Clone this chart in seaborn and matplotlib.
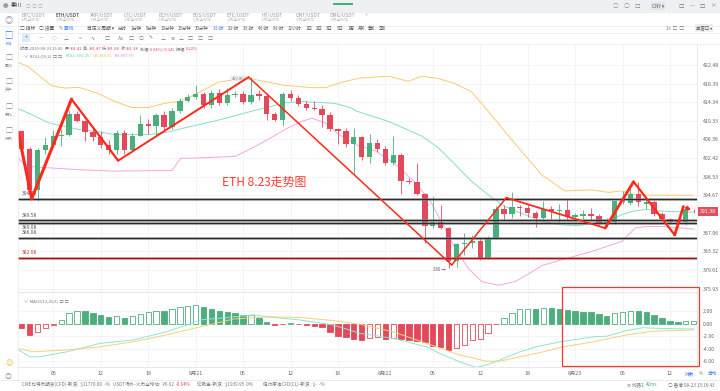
import numpy as np
import pandas as pd
import matplotlib
matplotlib.use('Agg')
import matplotlib.pyplot as plt
from matplotlib.patches import Rectangle
from matplotlib.lines import Line2D
from matplotlib.ticker import FixedLocator, NullLocator, FixedFormatter
import seaborn as sns

sns.set_theme(style='white')
plt.rcParams['font.family'] = ['Noto Sans CJK SC', 'DejaVu Sans']

# ETH/USDT hourly candles, 2020-08-20 02:00 -> 2020-08-23 15:00
opens = [408.1, 404.4, 395.7, 404.2, 405.2, 407.0, 407.3, 411.9, 410.3, 408.0,
         406.9, 405.2, 404.2, 407.7, 404.2, 407.2, 409.7, 409.3, 411.5, 409.1,
         412.5, 414.7, 415.5, 416.1, 413.8, 416.4, 414.2, 415.8, 416.2, 414.4,
         416.2, 415.6, 411.9, 410.6, 416.2, 415.2, 414.0, 413.1, 412.8, 411.6,
         408.5, 408.2, 405.5, 406.8, 402.6, 405.7, 404.4, 401.5, 403.0, 397.7,
         397.4, 395.0, 388.4, 389.3, 388.1, 381.4, 384.7, 385.0, 385.3, 381.9,
         385.9, 391.8, 390.8, 392.3, 392.0, 391.0, 390.1, 391.9, 391.5, 391.7,
         390.3, 390.5, 390.8, 390.4, 389.1, 389.3, 393.3, 393.2, 395.0, 393.0,
         393.4, 390.9, 389.8, 389.6, 389.2, 391.42]
highs = [408.4, 404.8, 404.6, 406.9, 408.3, 408.5, 412.6, 412.5, 410.5, 409.2,
         408.2, 406.3, 408.4, 408.3, 407.7, 411.6, 410.8, 412.0, 412.5, 413.0,
         415.3, 416.2, 418.0, 416.5, 417.0, 417.3, 417.5, 416.8, 416.8, 419.8,
         417.0, 416.3, 412.3, 416.6, 417.0, 416.0, 414.6, 414.5, 413.7, 412.3,
         408.8, 408.7, 408.7, 407.0, 407.5, 406.5, 405.0, 407.0, 403.5, 398.2,
         401.3, 395.2, 394.5, 392.8, 388.3, 385.0, 387.0, 386.6, 385.9, 386.3,
         392.5, 392.7, 395.3, 392.8, 392.6, 391.4, 393.5, 392.5, 393.0, 394.0,
         391.0, 391.6, 392.0, 390.8, 390.0, 393.6, 395.5, 396.5, 397.4, 393.9,
         393.8, 391.2, 390.1, 390.0, 392.2, 391.87]
lows = [403.8, 394.2, 393.5, 403.3, 404.9, 404.9, 407.0, 410.0, 406.0, 406.0,
        404.5, 403.3, 403.3, 403.2, 403.8, 407.0, 407.6, 406.8, 408.2, 408.5,
        412.0, 414.3, 415.0, 413.0, 413.0, 413.8, 413.8, 415.5, 413.9, 414.0,
        414.9, 410.5, 410.2, 409.2, 414.5, 413.5, 412.6, 412.6, 409.0, 408.2,
        405.3, 404.8, 399.3, 402.0, 401.5, 403.8, 401.0, 401.0, 395.0, 397.0,
        394.8, 384.9, 388.0, 387.8, 380.0, 380.2, 382.6, 383.9, 381.6, 381.7,
        385.7, 389.7, 390.0, 390.5, 390.3, 388.3, 389.7, 389.9, 389.0, 389.8,
        389.5, 389.8, 389.7, 388.7, 388.3, 388.9, 393.0, 392.8, 392.5, 391.8,
        390.4, 389.6, 388.8, 388.7, 388.6, 391.08]
closes = [404.4, 395.7, 404.2, 405.2, 407.0, 407.3, 411.9, 410.3, 408.0, 406.9,
          405.2, 404.2, 407.7, 404.2, 407.2, 409.7, 409.3, 411.5, 409.1, 412.5,
          414.7, 415.5, 416.1, 413.8, 416.4, 414.2, 415.8, 416.2, 414.4, 415.8,
          415.6, 411.9, 410.6, 416.2, 415.2, 414.0, 413.0, 412.8, 411.6, 408.5,
          408.2, 405.5, 406.8, 402.6, 405.7, 404.4, 401.5, 403.0, 397.7, 397.4,
          395.0, 388.4, 389.3, 388.1, 381.4, 384.7, 385.0, 385.3, 381.9, 385.9,
          391.8, 390.8, 392.3, 392.0, 391.0, 390.1, 391.9, 391.5, 391.7, 390.3,
          390.6, 390.8, 390.4, 389.1, 389.3, 393.5, 393.9, 395.0, 393.3, 393.4,
          390.9, 389.9, 389.2, 389.2, 391.8, 391.38]

# MACD histogram per candle
macd_hist = [-0.64, -1.80, -1.39, -0.75, -0.16, 0.53, 1.65, 2.08, 1.97, 1.65,
             1.39, 1.01, 1.23, 0.96, 1.28, 1.55, 1.81, 2.08, 2.03, 2.29,
             2.61, 2.88, 2.99, 2.61, 2.40, 2.08, 1.87, 1.65, 1.39, 1.44,
             0.91, 0.27, -0.27, -0.10, 0.10, -0.12, -0.27, -0.37, -0.48, -1.28,
             -1.92, -2.08, -2.51, -2.61, -2.35, -2.08, -2.45, -2.35, -2.51, -2.61,
             -2.72, -2.99, -3.57, -3.68, -4.21, -3.95, -3.41, -2.61, -2.51, -1.55,
             -0.11, 0.85, 1.65, 2.29, 2.35, 2.32, 2.45, 2.44, 2.40, 2.19,
             2.08, 1.92, 1.81, 1.55, 1.23, 1.65, 1.81, 2.08, 1.97, 1.81,
             1.44, 0.91, 0.48, 0.32, 0.37, 0.43]

# DIF / DEA lines read at sample positions (candle index, value)
dif_idx = [-0.5, 1, 2.3, 5.7, 9.9, 14.1, 18.3, 20.9, 22.6, 26.8, 29.3, 31, 35.2, 39.4, 42.8,
           47, 51.2, 53.3, 55.4, 57.5, 58.8, 60.5, 63, 65.1, 68.1, 72.3, 74, 76.5, 78.6, 80.7, 84.7, 85]
dif_val = [-4.1, -5.3, -5.3, -4.5, -3.15, -2.6, -1.3, -0.2, 0.6, 1.1, 1.4, 1.1, 0.6, -0.2, -1.55,
           -2.35, -3.7, -5.0, -6.1, -7.0, -6.6, -5.8, -4.5, -3.7, -2.9, -2.1, -2.0, -1.1, -0.64, -0.75, -0.85, -0.79]
dea_idx = [-0.5, 1.5, 5.7, 9.9, 14.1, 18.3, 22.6, 26.8, 31, 35.2, 39.4, 42.8,
           47, 51.2, 55.4, 58.8, 60.5, 63, 66, 68.1, 72.3, 76.5, 79.8, 84.7, 85]
dea_val = [-3.95, -4.5, -4.2, -3.7, -2.9, -1.8, -0.5, 0.75, 1.1, 1.0, 0.5, -0.1,
           -1.3, -3.15, -5.0, -6.0, -6.0, -5.3, -4.5, -3.8, -2.9, -1.8, -1.2, -1.01, -1.01]

# Bollinger bands read at sample positions (candle index, price)
ub_idx = [-0.85, 0.84, 2.5, 3.8, 5.5, 7.2, 9.7, 11.8, 13.9, 16, 18.1, 19.8, 21.3, 24.9, 27, 29.1,
          31.2, 33.3, 36.7, 38.4, 40.5, 42.8, 46.4, 48.9, 50.6, 52.7, 54.8, 56.9, 59, 61.1, 63.2,
          65.8, 68.7, 72.1, 74.2, 75.9, 77.6, 80.5, 85]
ub_val = [423.3, 422.1, 419.7, 417.9, 417.4, 417.6, 416.2, 414.5, 413.2, 413.2, 414.1, 414.5, 415.5,
          418.7, 419.3, 419.4, 418.7, 418.0, 417.5, 417.5, 418.7, 419.6, 420.0, 418.9, 420.0, 419.5,
          418.4, 416.6, 412.4, 408.1, 403.9, 398.9, 395.6, 395.8, 395.3, 395.6, 394.8, 394.7, 394.71]
mb_idx = [-0.85, 0.84, 3.4, 5.5, 7.2, 9.7, 11.8, 13.9, 16, 18.1, 19.8, 21.3, 24.9, 29.1, 33.3,
          35.4, 37.5, 39.6, 41.7, 42.2, 46.4, 50.6, 52.7, 54.8, 56.9, 59, 61.1, 63.2, 65.8, 67.9,
          70, 72.1, 74.2, 75.9, 77.2, 78.9, 81.4, 85]
mb_val = [413.2, 412.0, 409.9, 409.1, 408.5, 408.0, 407.4, 407.4, 407.4, 407.8, 408.5, 409.1, 410.5,
          412.4, 414.2, 414.5, 414.3, 414.1, 413.1, 412.5, 410.2, 407.1, 404.6, 401.1, 397.6, 394.8,
          392.4, 391.0, 389.4, 388.7, 388.5, 388.8, 389.4, 390.7, 391.4, 391.8, 391.4, 391.25]
lb_idx = [-0.85, 0.84, 3.4, 7.2, 11.8, 16, 19, 20.1, 21.3, 27, 29.1, 31.2, 33.3, 35.4, 36.7, 38.4,
          40.1, 41.7, 42.2, 44.8, 47.3, 49.6, 51.7, 53.5, 54.8, 56.5, 58.2, 60.3, 62.4, 64.3, 65.8,
          68.7, 72.1, 75.9, 77.6, 78.9, 81.4, 85]
lb_val = [402.8, 400.7, 400.4, 400.0, 399.7, 399.8, 399.8, 402.4, 402.4, 402.8, 404.5, 406.4, 408.5,
          410.2, 410.9, 409.9, 407.4, 405.9, 405.3, 403.9, 401.1, 397.6, 393.5, 388.0, 384.0, 379.9,
          377.3, 376.6, 377.3, 379.0, 380.5, 381.8, 383.3, 385.3, 388.0, 388.3, 388.3, 387.79]

# hand-drawn trend zigzag (candle index, price) and support/resistance levels
zz_idx = [-0.43, 1.26, 6.3, 12.2, 28.7, 54.4, 61.3, 73.8, 77.4, 82.6, 83.7, 85.0]
zz_price = [407.8, 394.0, 415.0, 401.9, 419.8, 380.6, 394.2, 388.0, 397.5, 386.6, 392.4, 391.4]
zz_width = [2.2, 2.2, 1.6, 1.4, 1.1, 1.1, 1.3, 2.0, 1.6, 2.0, 1.4]
levels = [394.00, 389.58, 389.08, 386.08, 382.08]
level_labels = ['394.00', '389.58', '389.08', '386.08', '382.08']

price_ticks = [422.48, 418.39, 414.34, 410.33, 406.36, 402.42, 398.53, 394.67,
               387.06, 383.32, 379.61, 375.93]
macd_ticks = [2, 0, -2, -4, -6]

pairs = ['BTC/USDT', 'ETH/USDT', 'XRP/USDT', 'LTC/USDT', 'BCH/USDT', 'EOS/USDT',
         'ETC/USDT', 'HT/USDT', 'ONT/USDT', 'OMG/USDT']
periods = ['分时', '1分钟', '5分钟', '10分钟', '15分钟', '30分钟', '1小时', '2小时', '3小时',
           '4小时', '6小时', '12小时', '1日', '2日', '3日', '5日', '1周', '月K', '季K', '年K']

GREEN = '#4cae7d'
RED = '#e2495b'
TXT = '#707680'
W, H = 720, 391


def fx(px):
    return px / W


def fy(py):
    return 1 - py / H


times = pd.date_range('2020-08-20 02:00', periods=len(closes), freq='h')
xs = np.arange(len(closes))
o = np.array(opens); c = np.array(closes)
hi = np.array(highs); lo = np.array(lows)
tick_pos = [i for i, t in enumerate(times) if t.hour % 6 == 0]
tick_lab = [f'{t.month}月{t.day}' if t.hour == 0 else f'{t.hour:02d}' for t in times if t.hour % 6 == 0]

fig = plt.figure(figsize=(W / 100, H / 100), dpi=100)
fig.patch.set_facecolor('white')

# ---------- price panel ----------
ax = fig.add_axes([fx(18), fy(292), fx(697) - fx(18), fy(45) - fy(292)])
ax.set_yscale('log')
ax.set_xlim(-0.47, 85.42)
ax.set_ylim(375.27, 426.9)
for t in price_ticks:
    ax.axhline(t, color='#f3f3f3', lw=0.6, zorder=0)
for t in tick_pos:
    ax.axvline(t, color='#f3f3f3', lw=0.6, zorder=0)

sns.lineplot(x=ub_idx, y=ub_val, ax=ax, color='#f8cb72', lw=0.7, sort=False)
sns.lineplot(x=mb_idx, y=mb_val, ax=ax, color='#86dccb', lw=0.7, sort=False)
sns.lineplot(x=lb_idx, y=lb_val, ax=ax, color='#f5a6dd', lw=0.7, sort=False)

up = c >= o
cc = np.where(up, GREEN, RED)
ax.vlines(xs, lo, hi, colors=cc, lw=0.6, zorder=3)
ax.bar(xs, np.maximum(np.abs(c - o), 0.15), bottom=np.minimum(o, c), width=0.68,
       color=cc, linewidth=0, zorder=4)

for k, (lv, lab) in enumerate(zip(levels, level_labels)):
    col = '#a3141f' if lv < 383 else '#2b2b2b'
    ax.axhline(lv, color='#9a9a9a' if lv >= 383 else '#d77', lw=2.0, alpha=0.6, zorder=5)
    ax.axhline(lv, color=col, lw=1.0, zorder=5)
    below = k == 2  # the two close lines: second label goes under its line
    ax.text(0.0, lv / 1.0012 if below else lv * 1.0012, lab, fontsize=3.6,
            color='#c0392b' if lv < 383 else '#555',
            ha='left', va='top' if below else 'bottom', zorder=6)

for k in range(len(zz_idx) - 2):
    ax.plot(zz_idx[k:k + 2], zz_price[k:k + 2], color='#ff2a1a', lw=zz_width[k],
            solid_capstyle='round', zorder=7)
ax.annotate('', xy=(zz_idx[-1], zz_price[-1]), xytext=(zz_idx[-2], zz_price[-2]),
            arrowprops=dict(arrowstyle='-|>', color='#ff2a1a', lw=zz_width[-1],
                            mutation_scale=5), zorder=7)

ax.text(53.6, 379.8, '380 →', fontsize=3.2, color='#666', ha='right', va='center')
ax.text(28.2, 419.5, '419.80', fontsize=3.0, color='#777', ha='right', va='center',
        bbox=dict(boxstyle='square,pad=0.15', fc='#f4f4f4', ec='#cfcfcf', lw=0.3))

ax.yaxis.tick_right()
ax.yaxis.set_major_locator(FixedLocator(price_ticks))
ax.yaxis.set_major_formatter(FixedFormatter([f'{t:.2f}' for t in price_ticks]))
ax.yaxis.set_minor_locator(NullLocator())
ax.tick_params(axis='y', labelsize=3.8, labelcolor='#666', length=0, pad=4)
ax.set_xticks([])
ax.set_xlabel('')
ax.set_ylabel('')
for s in ['top', 'left']:
    ax.spines[s].set_visible(False)
for s in ['right', 'bottom']:
    ax.spines[s].set_color('#e4e4e4')
    ax.spines[s].set_linewidth(0.6)
ax.annotate('391.38', xy=(1.0, 391.38), xycoords=('axes fraction', 'data'),
            xytext=(2, 0), textcoords='offset points', fontsize=3.8, color='white',
            ha='left', va='center',
            bbox=dict(boxstyle='square,pad=0.35', fc='#e0505e', ec='none'))

# ---------- MACD panel ----------
ax2 = fig.add_axes([fx(18), fy(367), fx(697) - fx(18), fy(293) - fy(367)])
ax2.set_xlim(-0.47, 85.42)
ax2.set_ylim(-6.93, 4.91)
for t in macd_ticks:
    ax2.axhline(t, color='#f3f3f3', lw=0.6, zorder=0)
for t in tick_pos:
    ax2.axvline(t, color='#f3f3f3', lw=0.6, zorder=0)

hist = np.array(macd_hist)
prev = np.r_[0.0, hist[:-1]]
hcol = np.where(hist >= 0, GREEN, RED)
hface = np.where(hist > prev, 'white', hcol)
ax2.bar(xs, hist, width=0.68, color=hface, edgecolor=hcol, linewidth=0.6, zorder=3)
sns.lineplot(x=dif_idx, y=dif_val, ax=ax2, color='#8fe3d3', lw=0.7, sort=False, zorder=4)
sns.lineplot(x=dea_idx, y=dea_val, ax=ax2, color='#f7cf78', lw=0.7, sort=False, zorder=4)

ax2.yaxis.tick_right()
ax2.set_yticks(macd_ticks)
ax2.set_yticklabels([f'{t:.2f}' for t in macd_ticks])
ax2.tick_params(axis='y', labelsize=3.8, labelcolor='#666', length=0, pad=4)
ax2.set_xticks(tick_pos)
ax2.set_xticklabels(tick_lab)
ax2.tick_params(axis='x', labelsize=3.8, labelcolor='#666', length=0, pad=3)
ax2.set_xlabel('')
ax2.set_ylabel('')
ax2.spines['top'].set_visible(False)
ax2.spines['left'].set_visible(False)
for s in ['right', 'bottom']:
    ax2.spines[s].set_color('#e4e4e4')
    ax2.spines[s].set_linewidth(0.6)

# red highlight box over the MACD pane
fig.patches.append(Rectangle((fx(562), fy(366)), fx(699) - fx(562), fy(287) - fy(366),
                             transform=fig.transFigure, fill=False, ec='#f03a2e', lw=0.9))


def chain(x, y, parts, fs, gap=0.0):
    """texts placed one after another on a row, each right after the previous one"""
    t = fig.text(fx(x), fy(y), parts[0][0], fontsize=fs, color=parts[0][1], va='center')
    for s, col in parts[1:]:
        t = ax.annotate(s, xy=(1, 0.5), xycoords=t, xytext=(gap, 0), textcoords='offset points',
                        fontsize=fs, color=col, va='center', ha='left', annotation_clip=False)
    return t


# ---------- app chrome ----------
fig.patches.append(Rectangle((0, fy(12)), 1, 12 / H, transform=fig.transFigure,
                             fc='#eef0f4', ec='none', zorder=-1))
fig.patches.append(Rectangle((fx(333), fy(4.5)), fx(20), 2 / H, transform=fig.transFigure,
                             fc='#3cb371', ec='none'))
fig.text(fx(3), fy(6), '●', fontsize=4, color='#9aa0aa', va='center')
fig.text(fx(11), fy(6), '秦川', fontsize=4, color='#333', va='center')
fig.text(fx(26), fy(6), '○ ○ ○', fontsize=3.5, color='#aab', va='center')
for xp, s in [(615, '○'), (626, '○'), (637, '□')]:
    fig.text(fx(xp), fy(6), s, fontsize=4, color='#888', va='center', ha='center')
fig.text(fx(658), fy(6), 'CNY ▾', fontsize=3.4, color='#666', va='center', ha='center',
         bbox=dict(boxstyle='square,pad=0.25', fc='#e2e4ea', ec='none'))
for xp, s in [(681, '□'), (692, '—'), (702, '□'), (713, '×')]:
    fig.text(fx(xp), fy(6), s, fontsize=4, color='#777', va='center', ha='center')

for k, p in enumerate(pairs):
    xp = 21 + k * 34.3
    fig.text(fx(xp), fy(15), p, fontsize=3.5, color='#222' if k == 1 else '#999', va='center')
    fig.text(fx(xp), fy(20), '火币全球站', fontsize=2.7, color='#bbb', va='center')
fig.text(fx(365), fy(16), '+', fontsize=4, color='#aaa', va='center')

fig.text(fx(20), fy(28), '□ 指标', fontsize=3.4, color='#555', va='center')
fig.text(fx(39), fy(28), '○ 设置', fontsize=3.4, color='#555', va='center')
fig.text(fx(59), fy(28), '✎ 画线', fontsize=3.4, color='#3b7bea', va='center')
fig.text(fx(87), fy(28), '自定义周期 ▾', fontsize=3.4, color='#555', va='center')
xp = 118
for p in periods:
    fig.text(fx(xp), fy(28), p, fontsize=3.2, color='#3b7bea' if p == '1小时' else '#555',
             va='center')
    xp += sum(2.4 if ch.isascii() else 4.5 for ch in p) + 3.6
fig.text(fx(666), fy(28), '1s  □  □', fontsize=3.4, color='#777', va='center')
fig.text(fx(696), fy(28), '单窗口 ▾', fontsize=3.2, color='#555', va='center',
         bbox=dict(boxstyle='square,pad=0.25', fc='#eceef2', ec='none'))
fig.patches.append(Rectangle((fx(22), fy(42)), fx(8), 8 / H, transform=fig.transFigure,
                             fc='#dde8fb', ec='none'))
for xp, s in [(26, '+'), (41, '—'), (54, '◇'), (66, '△'), (80, '='), (93, '∿'),
              (107, '□'), (121, 'Aa'), (131, '□'), (141, '○'), (151, '✎'), (163, '△'),
              (173, '≋'), (181, '△'), (190, '□'), (200, '□'), (210, '□')]:
    fig.text(fx(xp), fy(38), s, fontsize=3.6, color='#3b7bea' if xp == 26 else '#777',
             va='center', ha='center')

for yp in [12, 26, 33, 44]:
    fig.add_artist(Line2D([fx(18) if yp > 26 else 0, 1], [fy(yp), fy(yp)], color='#e8e8e8', lw=0.5))
fig.add_artist(Line2D([fx(17.5), fx(17.5)], [fy(12), fy(380)], color='#e8e8e8', lw=0.5))

# info lines
PR = '#e5404f'
chain(20, 49, [('时间:2020-08-23 15:00 ', TXT), (' 开:', TXT), ('391.42', PR), (' 高:', TXT),
               ('391.87', PR), (' 低:', TXT), ('391.08', PR), (' 收:', TXT), ('391.38', PR),
               (' 涨幅:', TXT), ('-0.04%(-0.14)', PR), (' 振幅:', TXT), ('0.22%', PR)], 3.0)
chain(24, 56, [('∨  BOLL(19,2)  □ □ ', TXT), ('BOLL:391.25', '#5ccfb8'),
               ('UB:394.71', '#f2b64a'), ('LB:387.79', '#ee7fd0')], 3.0, gap=2.0)
chain(24, 301.5, [('∨  MACD(12,26,9)  □ □ ', TXT), ('DIF:-0.79', '#5ccfb8'),
                  ('DEA:-1.01', '#f2b64a'), ('MACD:0.43', GREEN)], 3.0, gap=2.0)

fig.text(fx(222), fy(182), 'ETH 8.23走势图', fontsize=8.6, color='#ff3b30', va='center')

# left sidebar
fig.text(fx(8.5), fy(20), '◎', fontsize=6, color='#999', ha='center', va='center')
fig.text(fx(8.5), fy(35), '□', fontsize=6, color='#3b7bea', ha='center', va='center')
fig.text(fx(8.5), fy(44), 'K线', fontsize=2.8, color='#3b7bea', ha='center', va='center')
for yp, lab in [(58, '画线'), (82, '资产'), (107, '委托'), (131, '快讯')]:
    fig.text(fx(8.5), fy(yp), '□', fontsize=5, color='#888', ha='center', va='center')
    fig.text(fx(8.5), fy(yp + 8), lab, fontsize=2.8, color='#888', ha='center', va='center')
fig.text(fx(8.5), fy(363), '☺', fontsize=5, color='#e8b33a', ha='center', va='center')
fig.text(fx(8.5), fy(377), '◎', fontsize=5, color='#999', ha='center', va='center')

fig.text(fx(690), fy(373.5), '对数', fontsize=3.4, color='#3b7bea', va='center', ha='center')
fig.text(fx(701), fy(373.5), '%', fontsize=3.4, color='#888', va='center', ha='center')
fig.text(fx(712), fy(373.5), '自动', fontsize=3.4, color='#3b7bea', va='center', ha='center')

# status bar
fig.add_artist(Line2D([0, 1], [fy(379.5), fy(379.5)], color='#e4e4e4', lw=0.5))
fig.text(fx(22), fy(384.5), 'CME比特币期货(CFD)-新浪:  $11770.00  -%', fontsize=3.3, color='#777', va='center')
chain(113, 384.5, [('USDT场外-火币全球站:  ¥6.92  ', '#777'), ('-0.14%', PR)], 3.3)
fig.text(fx(197), fy(384.5), '伦敦金-新浪:  $1939.95  0%', fontsize=3.3, color='#777', va='center')
fig.text(fx(263), fy(384.5), '纽约原油CFD(CL)-新浪:  $-  -%', fontsize=3.3, color='#777', va='center')
chain(627, 384.5, [('≋ 线路1: ', '#777'), ('42ms', '#3cb371')], 3.3)
fig.text(fx(668), fy(384.5), '○ 香港 08-23 15:16:43', fontsize=3.3, color='#777', va='center')

fig.savefig('out.png', dpi=100, facecolor='white')
